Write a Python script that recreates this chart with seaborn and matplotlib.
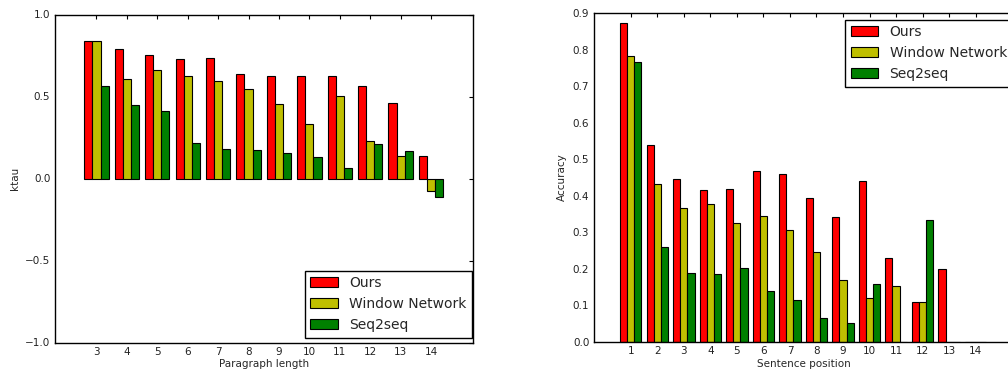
import numpy as np
import pandas as pd
import matplotlib
matplotlib.use("Agg")
import matplotlib.pyplot as plt
import seaborn as sns

# ---- data ----
models = ["Ours", "Window Network", "Seq2seq"]
colors = ["#ff0000", "#bfbf00", "#008000"]

para_len = [3, 4, 5, 6, 7, 8, 9, 10, 11, 12, 13, 14]
ktau_ours = [0.838, 0.789, 0.755, 0.726, 0.735, 0.635, 0.625, 0.625, 0.625, 0.564, 0.463, 0.140]
ktau_window = [0.838, 0.609, 0.659, 0.625, 0.595, 0.548, 0.455, 0.335, 0.505, 0.231, 0.140, -0.077]
ktau_seq2seq = [0.564, 0.449, 0.414, 0.215, 0.181, 0.172, 0.156, 0.132, 0.061, 0.211, 0.168, -0.110]

sent_pos = [1, 2, 3, 4, 5, 6, 7, 8, 9, 10, 11, 12, 13, 14]
acc_ours = [0.872, 0.538, 0.447, 0.417, 0.419, 0.467, 0.459, 0.394, 0.343, 0.440, 0.230, 0.109, 0.200, 0.0]
acc_window = [0.782, 0.432, 0.366, 0.378, 0.325, 0.346, 0.306, 0.245, 0.169, 0.119, 0.153, 0.109, 0.0, 0.0]
acc_seq2seq = [0.765, 0.260, 0.189, 0.185, 0.202, 0.139, 0.114, 0.066, 0.052, 0.158, 0.0, 0.333, 0.0, 0.0]


def long_df(cats, series):
    rows = []
    for m, vals in zip(models, series):
        for c, v in zip(cats, vals):
            rows.append({"cat": str(c), "model": m, "value": v})
    return pd.DataFrame(rows)


sns.set_style("white")
plt.rcParams["font.family"] = ["DejaVu Sans"]
plt.rcParams["font.size"] = 7.5

W, H = 1008, 371
fig = plt.figure(figsize=(W / 100, H / 100), dpi=100)

ax1_w, ax1_h = 418.5, 328.0
ax2_w, ax2_h = 420.5, 329.0
ax1 = fig.add_axes([54.5 / W, 28.5 / H, ax1_w / W, ax1_h / H])
ax2 = fig.add_axes([593.5 / W, 29 / H, ax2_w / W, ax2_h / H])

df1 = long_df(para_len, [ktau_ours, ktau_window, ktau_seq2seq])
df2 = long_df(sent_pos, [acc_ours, acc_window, acc_seq2seq])

for ax, df, cats in [(ax1, df1, para_len), (ax2, df2, sent_pos)]:
    sns.barplot(data=df, x="cat", y="value", hue="model", order=[str(c) for c in cats],
                hue_order=models, palette=colors, edgecolor="black", linewidth=0.8,
                errorbar=None, width=0.8, saturation=1, ax=ax)
    for sp in ax.spines.values():
        sp.set_color("black")
        sp.set_linewidth(1.0)
    ax.tick_params(direction="in", top=True, right=True, length=3, width=0.8,
                   colors="black", labelsize=7.5, labelcolor="#222222", pad=3)

ax1.set_xlim(-1.38, 12.38)
ax1.set_ylim(-1.0, 1.0)
ax1.set_yticks([-1.0, -0.5, 0.0, 0.5, 1.0])
ax1.set_yticklabels(["\u22121.0", "\u22120.5", "0.0", "0.5", "1.0"])
ax1.set_xlabel("Paragraph length", fontsize=7.5, labelpad=2)
ax1.set_ylabel("ktau", fontsize=7.5, labelpad=4)

ax2.set_xlim(-1.41, 14.45)
ax2.set_ylim(0.0, 0.9)
ax2.set_yticks(np.arange(0, 0.91, 0.1))
ax2.set_yticklabels([f"{v:.1f}" for v in np.arange(0, 0.91, 0.1)])
ax2.set_xlabel("Sentence position", fontsize=7.5, labelpad=2)
ax2.set_ylabel("Accuracy", fontsize=7.5, labelpad=4)

legs = [
    (ax1, "lower right", (1 - 1.0 / ax1_w, 5.0 / ax1_h)),
    (ax2, "upper right", (1 - 1.5 / ax2_w, 1 - 6.5 / ax2_h)),
]
for ax, loc, anchor in legs:
    leg = ax.legend(loc=loc, bbox_to_anchor=anchor, borderaxespad=0, fontsize=10,
                    frameon=True, fancybox=False, framealpha=1, edgecolor="black")
    leg.get_frame().set_linewidth(1.0)
    for h in leg.legend_handles:
        h.set_edgecolor("black")

fig.savefig("out.png", dpi=100)
